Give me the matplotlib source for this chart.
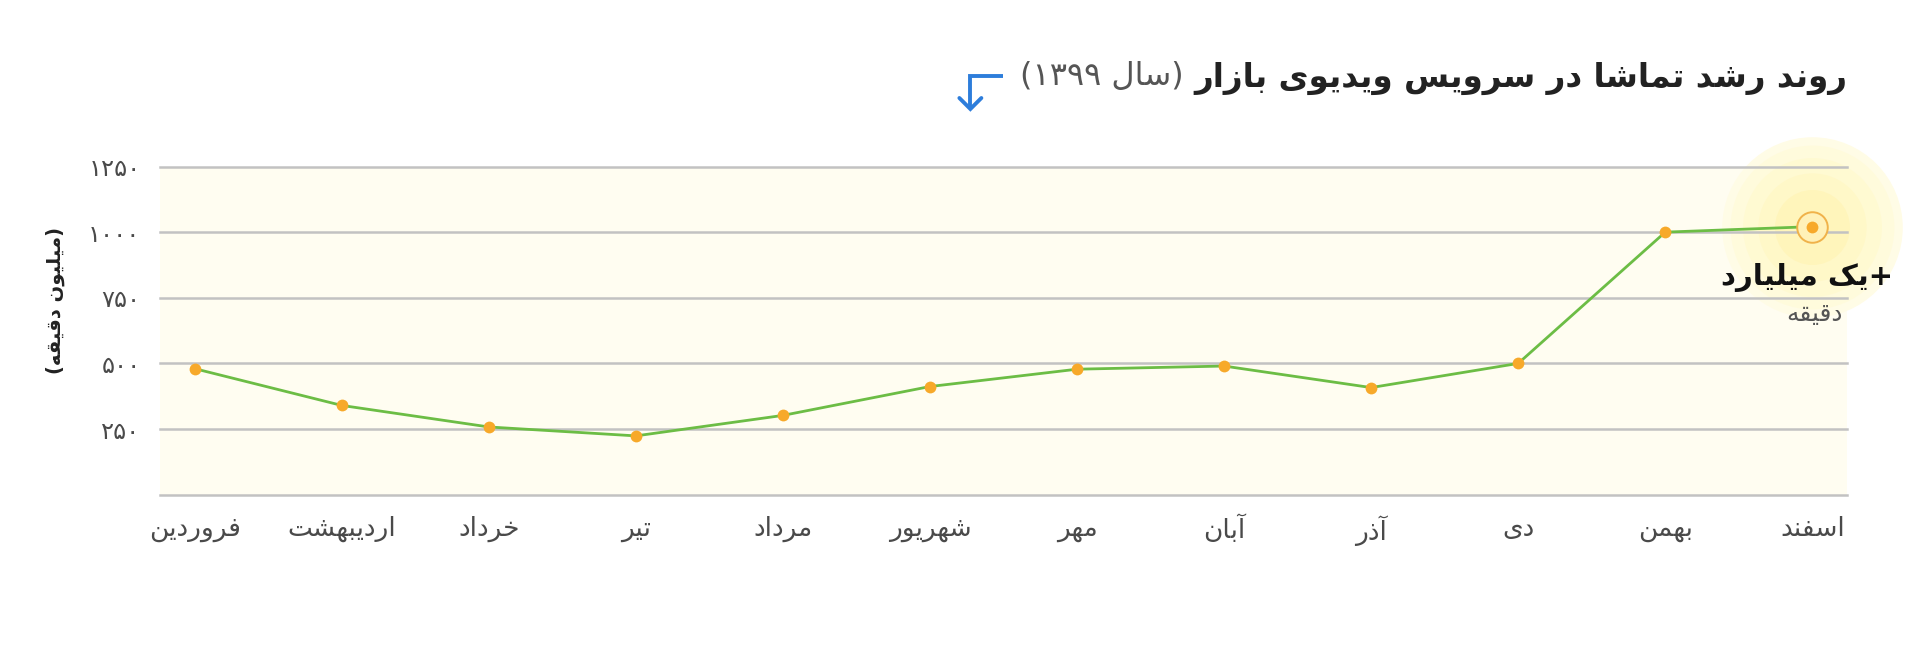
import re
import matplotlib
matplotlib.use('Agg')
import matplotlib.pyplot as plt
from matplotlib.lines import Line2D

# ---------------- data ----------------
months = ['فروردین', 'اردیبهشت', 'خرداد', 'تیر', 'مرداد', 'شهریور',
          'مهر', 'آبان', 'آذر', 'دی', 'بهمن', 'اسفند']
views = [480, 340, 258, 224, 302, 412, 478, 490, 408, 500, 1000, 1021]
yticks = [250, 500, 750, 1000, 1250]
ytick_labels = ['۲۵۰', '۵۰۰', '۷۵۰', '۱۰۰۰', '۱۲۵۰']
title_main = 'روند رشد تماشا در سرویس ویدیوی بازار'
title_year = '(سال ۱۳۹۹)'
ylabel = '(میلیون دقیقه)'
ann_main = '+یک میلیارد'
ann_sub = 'دقیقه'

# ---------------- minimal Arabic/Persian shaping ----------------
DUAL = {'ب': 0xFE8F, 'ت': 0xFE95, 'ث': 0xFE99, 'ج': 0xFE9D, 'ح': 0xFEA1,
        'خ': 0xFEA5, 'س': 0xFEB1, 'ش': 0xFEB5, 'ص': 0xFEB9, 'ض': 0xFEBD,
        'ط': 0xFEC1, 'ظ': 0xFEC5, 'ع': 0xFEC9, 'غ': 0xFECD, 'ف': 0xFED1,
        'ق': 0xFED5, 'ل': 0xFEDD, 'م': 0xFEE1, 'ن': 0xFEE5, 'ه': 0xFEE9,
        'ي': 0xFEF1, 'پ': 0xFB56, 'چ': 0xFB7A, 'ک': 0xFB8E, 'گ': 0xFB92,
        'ی': 0xFBFC}
RIGHT = {'ا': 0xFE8D, 'آ': 0xFE81, 'د': 0xFEA9, 'ذ': 0xFEAB, 'ر': 0xFEAD,
         'ز': 0xFEAF, 'و': 0xFEED, 'ژ': 0xFB8A, 'ة': 0xFE93}


def shape(s):
    out = []
    n = len(s)
    for i, c in enumerate(s):
        if c in DUAL or c in RIGHT:
            base = DUAL.get(c, RIGHT.get(c))
            prev = s[i - 1] if i > 0 else ''
            nxt = s[i + 1] if i < n - 1 else ''
            jp = prev in DUAL
            jn = c in DUAL and (nxt in DUAL or nxt in RIGHT)
            f = 3 if (jp and jn) else 1 if jp else 2 if jn else 0
            out.append(chr(base + f))
        else:
            out.append(c)
    return ''.join(out)


def fa(s):
    t = shape(s)[::-1]
    t = re.sub(r'[0-9۰-۹]+', lambda m: m.group(0)[::-1], t)
    return t.translate(str.maketrans('()', ')('))


plt.rcParams['font.family'] = ['DejaVu Sans']

W, H, DPI = 1920, 648, 100
fig = plt.figure(figsize=(W / DPI, H / DPI), dpi=DPI, facecolor='white')
ax = fig.add_axes([160 / W, 1 - 494.7 / H, (1847 - 160) / W, (494.7 - 166.5) / H])
ax.set_facecolor('#fffdf1')

x = list(range(len(months)))
ax.set_xlim(-0.236, len(months) - 1 + 0.236)
ax.set_ylim(0, 1250)

for v in [0] + yticks:
    ax.axhline(v, color='#c2c2c2', lw=1.8, zorder=1, clip_on=False)

# glow around the last point
lx, ly = x[-1], views[-1]
glow = [(130, '#fffce6'), (118, '#fffbdc'), (100, '#fffad2'),
        (78, '#fff8c8'), (54, '#fff5bb')]
for ms, col in glow:
    ax.plot([lx], [ly], 'o', ms=ms, color=col, mec='none',
            zorder=0.5, clip_on=False)
ax.plot([lx], [ly], 'o', ms=22, mfc='#fff1b8', mec='#f0b24a', mew=1.4,
        zorder=2.5, clip_on=False)

ax.plot(x, views, color='#6cbd45', lw=2.0, zorder=2)
ax.plot(x, views, 'o', ms=8.5, color='#f7a92a', mec='none', zorder=3)

for s in ax.spines.values():
    s.set_visible(False)
ax.set_yticks(yticks, labels=[fa(l) for l in ytick_labels])
ax.set_xticks(x, labels=[fa(m) for m in months])
ax.tick_params(axis='both', length=0, colors='#4a4a4a')
ax.tick_params(axis='y', pad=14, labelsize=17.5)
ax.tick_params(axis='x', pad=15, labelsize=19)

fig.text(55 / W, 1 - 300 / H, fa(ylabel), rotation=90, ha='center', va='center',
         fontsize=14, fontweight='bold', color='#222222')

# annotation near last point
fig.text(1893 / W, 1 - 278 / H, fa(ann_main), ha='right', va='center',
         fontsize=21, fontweight='bold', color='#111111')
fig.text(1843 / W, 1 - 314 / H, fa(ann_sub), ha='right', va='center',
         fontsize=18, color='#555555')

# title
t1 = fig.text(1847 / W, 1 - 78 / H, fa(title_main), ha='right', va='center',
              fontsize=23.5, fontweight='bold', color='#222222')
t2 = fig.text(0, 0, fa(title_year), ha='right', va='center', fontsize=23,
              color='#555555')
fig.canvas.draw()
bb = t1.get_window_extent()
t2.set_position(((bb.x0 - 10) / W, 1 - 76 / H))
fig.canvas.draw()
bb2 = t2.get_window_extent()

# blue bent arrow
xr = bb2.x0 - 17
xl = xr - 33
ytop = H - 76
ybot = H - 109
acol = '#2d7ddb'
fig.add_artist(Line2D([xr / W, xl / W, xl / W], [ytop / H, ytop / H, (ybot + 1) / H],
                      color=acol, lw=2.8, solid_joinstyle='miter',
                      solid_capstyle='butt', transform=fig.transFigure))
fig.add_artist(Line2D([(xl - 11) / W, xl / W, (xl + 11) / W],
                      [(ybot + 11) / H, ybot / H, (ybot + 11) / H],
                      color=acol, lw=2.8, solid_joinstyle='miter',
                      solid_capstyle='round', transform=fig.transFigure))

fig.savefig('out.png', dpi=DPI, facecolor='white')
